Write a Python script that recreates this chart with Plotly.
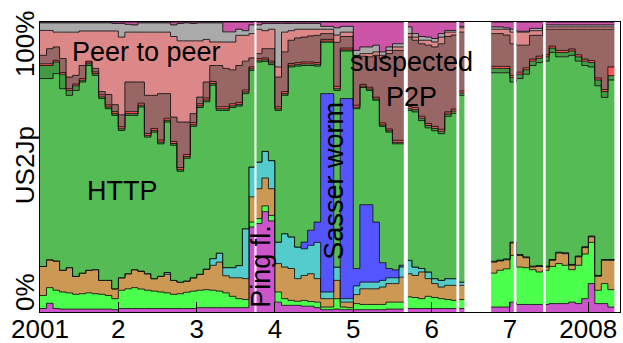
import pandas as pd
import plotly.graph_objects as go

# ---------------- data (percent of US->Japan traffic, upper edge of each stacked band) ----------
first_month, last_month = "2001-01", "2008-04"
missing_months = ["2006-06", "2006-07", "2006-08", "2006-09"]

# months per row: 2001 | 2002 | 2003 | 2004 | 2005 | 2006 Jan-May | 2006 Oct-Dec | 2007 | 2008 Jan-Apr
icmp_top = [1.2, 3.0, 1.2, 1.0, 1.0, 1.0, 1.0, 1.0, 1.0, 1.0, 1.0, 0.8,
            1.2, 1.2, 1.2, 1.2, 1.2, 1.2, 1.2, 1.2, 1.2, 1.2, 1.2, 1.2,
            1.5, 1.5, 1.5, 1.5, 1.5, 1.5, 1.5, 1.5, 29.3, 30.5, 34.6, 31.4,
            3.4, 2.3, 2.3, 2.3, 2.0, 2.0, 1.5, 0.8, 0.8, 1.0, 0.8, 0.8,
            0.8, 0.8, 0.8, 0.8, 0.8, 1.0, 1.0, 1.0, 1.2, 1.2, 1.2, 1.2,
            1.2, 1.2, 1.2, 1.2, 1.2,
            1.7, 1.7, 1.7,
            3.4, 2.6, 2.6, 2.6, 2.6, 2.6, 2.9, 2.9, 2.9, 3.4, 2.9, 4.6,
            9.8, 2.9, 2.9, 1.7]
udp_top = [5.7, 8.4, 7.5, 6.9, 6.6, 6.1, 6.3, 6.6, 6.3, 6.1, 5.7, 4.6,
           7.5, 8.0, 8.4, 7.9, 7.5, 7.2, 6.9, 6.6, 6.1, 6.3, 6.8, 7.2,
           7.5, 7.7, 7.5, 7.2, 6.6, 5.4, 4.6, 4.3, 31.0, 32.2, 36.6, 33.3,
           6.9, 4.6, 4.0, 3.7, 4.0, 3.6, 3.4, 1.7, 1.7, 4.6, 1.7, 1.5,
           2.9, 2.6, 2.6, 2.6, 2.6, 3.4, 3.4, 3.4, 5.2, 5.0, 4.6, 5.4,
           5.0, 4.6, 4.3, 4.0, 4.3,
           13.4, 14.4, 14.9,
           19.5, 15.5, 15.3, 14.6, 13.8, 14.4, 15.7, 16.7, 16.1, 14.6, 16.1, 20.0,
           24.0, 7.5, 9.8, 7.7]
ftp_top = [15.7, 18.0, 17.6, 14.4, 15.3, 12.3, 13.4, 14.4, 14.6, 10.9, 10.9, 8.0,
           11.8, 13.2, 14.6, 14.1, 13.2, 11.5, 12.3, 13.0, 10.9, 10.3, 10.7, 11.8,
           13.0, 14.8, 16.1, 17.2, 12.5, 11.8, 11.8, 11.5, 39.7, 42.5, 46.2, 42.5,
           16.7, 15.5, 15.0, 11.5, 12.6, 13.2, 11.5, 4.6, 4.6, 10.9, 3.4, 3.4,
           6.0, 8.0, 8.0, 8.0, 8.6, 9.8, 9.8, 12.0, 13.2, 12.6, 13.8, 11.5,
           9.8, 8.6, 9.2, 9.2, 9.2,
           17.2, 17.6, 18.0,
           23.8, 19.5, 18.7, 15.5, 15.7, 15.5, 17.8, 20.3, 20.1, 16.1, 19.0, 22.2,
           25.9, 12.3, 17.8, 17.8]
tcp_top = [15.7, 18.0, 17.6, 14.4, 15.3, 12.3, 13.4, 14.4, 14.6, 10.9, 10.9, 8.0,
           11.8, 13.2, 14.6, 14.1, 13.2, 11.5, 12.3, 13.6, 10.9, 10.3, 10.7, 11.8,
           13.0, 14.8, 18.4, 20.3, 15.3, 15.3, 16.0, 28.7, 50.0, 51.7, 55.4, 52.2,
           24.1, 27.0, 25.9, 22.4, 21.8, 23.0, 24.0, 6.9, 6.9, 15.5, 4.6, 4.6,
           9.0, 10.3, 10.3, 10.3, 10.9, 11.8, 11.8, 15.5, 17.8, 15.5, 15.0, 13.8,
           11.5, 10.9, 11.5, 11.5, 10.3,
           17.5, 17.9, 18.3,
           24.1, 19.8, 19.0, 15.8, 16.0, 15.8, 18.1, 20.6, 20.4, 16.4, 19.3, 22.5,
           26.2, 12.6, 18.1, 18.1]
sasser_top = [15.7, 18.0, 17.6, 14.4, 15.3, 12.3, 13.4, 14.4, 14.6, 10.9, 10.9, 8.0,
              11.8, 13.2, 14.6, 14.1, 13.2, 11.5, 12.3, 13.6, 10.9, 10.3, 10.7, 11.8,
              13.0, 14.8, 18.4, 20.3, 15.3, 15.3, 16.0, 28.7, 50.0, 51.7, 55.4, 52.2,
              24.1, 27.0, 25.9, 22.4, 24.1, 28.2, 31.0, 75.3, 75.3, 15.5, 73.6, 73.6,
              15.0, 37.0, 37.0, 31.0, 17.0, 15.0, 14.5, 16.1, 17.8, 15.5, 15.0, 13.8,
              11.5, 10.9, 11.5, 11.5, 10.3,
              17.5, 17.9, 18.3,
              24.1, 19.8, 19.0, 15.8, 16.0, 15.8, 18.1, 20.6, 20.4, 16.4, 19.3, 22.5,
              26.2, 12.6, 18.1, 18.1]
http_top = [80.5, 80.5, 82.2, 77.0, 74.7, 76.4, 79.3, 85.0, 81.6, 73.6, 70.1, 67.8,
            62.6, 67.8, 67.8, 70.7, 60.3, 62.0, 58.0, 65.5, 57.5, 48.5, 53.0, 64.0,
            70.5, 72.5, 78.2, 69.5, 69.5, 70.5, 71.0, 75.3, 83.3, 86.2, 86.4, 85.3,
            69.5, 74.7, 84.5, 84.8, 85.0, 85.0, 84.8, 93.0, 93.0, 76.4, 90.0, 90.0,
            70.1, 77.4, 76.4, 73.0, 64.0, 62.0, 58.0, 58.0, 69.5, 69.0, 66.0, 63.5,
            62.5, 61.5, 67.5, 68.5, 74.7,
            82.5, 82.5, 82.5,
            79.3, 80.5, 82.0, 85.0, 86.0, 86.5, 89.5, 88.0, 88.0, 88.5, 86.5, 85.0,
            84.5, 78.0, 74.0, 80.0]
https_top = [85.0, 85.0, 86.2, 82.0, 76.4, 78.0, 79.9, 85.6, 82.2, 74.2, 70.7, 68.4,
             63.2, 68.4, 68.4, 71.3, 60.9, 62.6, 58.6, 66.1, 58.1, 49.1, 53.6, 64.6,
             71.1, 73.1, 78.8, 70.1, 70.1, 71.1, 71.6, 75.9, 83.9, 86.8, 87.0, 85.9,
             70.1, 75.3, 85.1, 85.4, 85.6, 85.6, 85.4, 93.4, 93.4, 77.0, 90.4, 90.4,
             70.6, 77.9, 76.9, 73.5, 64.5, 62.5, 58.5, 58.5, 70.1, 69.8, 66.8, 64.3,
             63.3, 62.3, 68.3, 69.3, 75.5,
             84.0, 84.0, 84.0,
             80.8, 82.0, 83.5, 86.5, 87.5, 88.0, 91.0, 89.5, 89.5, 90.0, 88.0, 86.5,
             86.0, 80.0, 76.0, 81.5]
nntp_top = [85.6, 85.6, 86.8, 82.6, 77.0, 78.6, 80.5, 86.2, 82.8, 74.9, 71.4, 69.1,
            63.9, 69.1, 69.1, 72.0, 61.6, 63.3, 59.3, 66.8, 58.8, 49.8, 54.3, 65.3,
            71.8, 73.8, 79.5, 70.8, 70.8, 71.8, 72.3, 76.6, 84.5, 87.4, 87.6, 86.5,
            70.8, 76.0, 85.7, 86.0, 86.2, 86.2, 86.0, 94.0, 94.0, 77.8, 91.0, 91.0,
            71.3, 78.5, 77.5, 74.1, 65.2, 63.1, 59.2, 59.2, 70.8, 70.5, 67.5, 65.0,
            64.0, 63.0, 69.0, 70.0, 76.2,
            84.7, 84.7, 84.7,
            81.5, 82.7, 84.2, 87.2, 88.2, 88.7, 91.7, 90.2, 90.2, 90.7, 88.7, 87.2,
            86.7, 80.7, 76.7, 84.5]
susp_p2p_top = [88.5, 90.8, 91.4, 87.4, 81.0, 81.6, 85.0, 86.5, 84.0, 76.0, 75.0, 71.5,
                68.0, 79.3, 79.3, 79.3, 74.7, 74.7, 75.3, 75.3, 67.2, 65.5, 65.5, 68.4,
                74.1, 79.3, 85.0, 85.0, 84.0, 83.5, 85.0, 86.5, 87.6, 89.1, 90.8, 90.8,
                81.0, 89.7, 93.7, 94.5, 94.8, 95.2, 95.4, 96.0, 96.0, 93.0, 95.0, 95.0,
                88.5, 88.2, 88.0, 88.5, 87.4, 89.1, 90.2, 90.2, 94.8, 93.7, 92.5, 92.0,
                91.4, 92.5, 95.0, 95.5, 96.5,
                96.0, 96.0, 95.5,
                92.5, 92.0, 92.0, 95.4, 95.4, 97.5, 97.5, 97.5, 97.5, 97.5, 97.5, 97.5,
                97.5, 97.5, 97.5, 97.5]
p2p_top = [97.1, 97.1, 96.5, 96.5, 96.5, 96.5, 96.9, 96.9, 96.9, 96.9, 96.9, 96.9,
           94.8, 96.5, 96.5, 96.5, 96.5, 96.5, 96.5, 96.5, 95.0, 93.5, 93.5, 93.5,
           93.5, 94.0, 93.1, 93.1, 93.1, 93.1, 95.4, 95.4, 96.0, 97.5, 97.0, 97.5,
           84.5, 96.5, 97.0, 97.5, 97.5, 97.5, 97.5, 97.5, 97.5, 95.5, 96.5, 96.5,
           88.5, 89.1, 89.1, 89.7, 88.5, 90.2, 91.4, 91.4, 96.0, 94.8, 93.7, 93.7,
           93.1, 94.8, 96.5, 96.5, 98.0,
           97.5, 97.5, 97.5,
           96.5, 96.5, 96.5, 97.0, 97.0, 98.3, 98.3, 98.3, 98.3, 98.3, 98.3, 98.3,
           98.3, 98.3, 98.3, 98.3]
misc_top = [99.7, 99.7, 99.7, 99.7, 99.7, 99.7, 99.7, 99.7, 99.7, 99.7, 99.7, 99.5,
            99.5, 99.2, 99.0, 99.7, 99.7, 99.7, 99.7, 99.7, 99.0, 99.5, 99.7, 99.5,
            99.7, 99.7, 99.7, 99.7, 96.6, 96.6, 97.5, 97.0, 99.0, 99.0, 99.5, 99.5,
            99.5, 99.5, 99.5, 99.5, 99.5, 99.5, 99.5, 98.5, 98.5, 98.0, 98.5, 98.5,
            90.2, 91.4, 91.4, 92.0, 89.7, 91.4, 92.5, 92.5, 98.3, 96.0, 95.0, 94.8,
            94.3, 96.0, 97.1, 97.1, 98.5,
            98.3, 98.3, 98.0,
            97.5, 96.8, 96.8, 97.8, 97.8, 99.0, 99.0, 99.0, 99.0, 99.0, 99.0, 99.0,
            99.0, 99.0, 99.0, 99.0]
total_pct = 100.0

# measurement outages (decimal years)
outages = [(2003.738, 2003.764), (2005.645, 2005.696), (2006.317, 2006.352),
           (2006.419, 2006.760), (2007.049, 2007.083), (2007.424, 2007.457)]

year_ticks = [2001, 2002, 2003, 2004, 2005, 2006, 2007, 2008]
year_labels = ["2001", "2", "3", "4", "5", "6", "7", "2008"]

# ---------------- figure ----------------
periods = [p for p in pd.period_range(first_month, last_month, freq="M") if str(p) not in missing_months]
x = [p.year + (p.month - 1) / 12 for p in periods]
end_p = pd.Period(last_month, freq="M") + 1
xs = x + [end_p.year + (end_p.month - 1) / 12]

layers = [
    ("ICMP", icmp_top, "#CC55CC"),
    ("other UDP", udp_top, "#4CFF4C"),
    ("FTP", ftp_top, "#CC9955"),
    ("other TCP", tcp_top, "#55CCCC"),
    ("Sasser", sasser_top, "#5555FF"),
    ("HTTP", http_top, "#55BB55"),
    ("HTTPS", https_top, "#449944"),
    ("NNTP", nntp_top, "#FF5555"),
    ("suspected P2P", susp_p2p_top, "#996666"),
    ("P2P", p2p_top, "#DD8888"),
    ("misc", misc_top, "#AAAAAA"),
    ("unknown", [total_pct] * len(x), "#CC55AA"),
]

fig = go.Figure()
for i, (name, top, color) in enumerate(layers):
    ys = list(top) + [top[-1]]
    fig.add_trace(go.Scatter(
        x=xs, y=ys, mode="lines", name=name,
        line=dict(shape="hv", color="rgba(0,0,0,0.8)", width=1),
        fill="tozeroy" if i == 0 else "tonexty", fillcolor=color,
        hoverinfo="skip", showlegend=False))

shapes = [dict(type="rect", xref="x", yref="y", x0=a, x1=b, y0=0, y1=100,
               fillcolor="white", line=dict(width=0), layer="above") for a, b in outages]

FONT = "Liberation Sans, Arial, sans-serif"
txt = dict(showarrow=False, xanchor="center", yanchor="middle",
           font=dict(family=FONT, size=27, color="black"))
annotations = [
    dict(text="Peer to peer", x=2002.36, y=89.6, **txt),
    dict(text="HTTP", x=2002.05, y=41.7, **txt),
    dict(text="suspected<br>P2P", x=2005.74, y=80.2, **txt),
    dict(text="Sasser worm", x=2004.75, y=45.2, textangle=-90, **txt),
    dict(text="Ping fl.", x=2003.82, y=15.9, textangle=-90, **txt),
]
ytxt = dict(showarrow=False, xanchor="center", yanchor="middle", xref="paper", yref="paper",
            textangle=-90, font=dict(family=FONT, size=26, color="black"))
annotations += [
    dict(text="100%", x=-0.027, y=0.925, **ytxt),
    dict(text="US2Jp", x=-0.026, y=0.506, **ytxt),
    dict(text="0%", x=-0.026, y=0.069, **ytxt),
]

fig.update_layout(
    width=623, height=343,
    margin=dict(l=40, r=3, t=22, b=31, autoexpand=False),
    paper_bgcolor="white", plot_bgcolor="white",
    showlegend=False,
    shapes=shapes, annotations=annotations,
    xaxis=dict(range=[2001, 2008.405], tickvals=year_ticks, ticktext=year_labels,
               ticks="inside", ticklen=10, tickcolor="black", tickwidth=1,
               ticklabelstandoff=-6,
               showgrid=False, zeroline=False, showline=True, linecolor="black",
               linewidth=1, mirror=True, automargin=False,
               tickfont=dict(family=FONT, size=26, color="black")),
    yaxis=dict(range=[0, 100], tickvals=[60.3], ticks="outside", ticklen=4,
               tickcolor="black", showticklabels=False, showgrid=False,
               zeroline=False, showline=True, linecolor="black", linewidth=1,
               mirror=True, automargin=False),
)

fig.write_html("out.html")
